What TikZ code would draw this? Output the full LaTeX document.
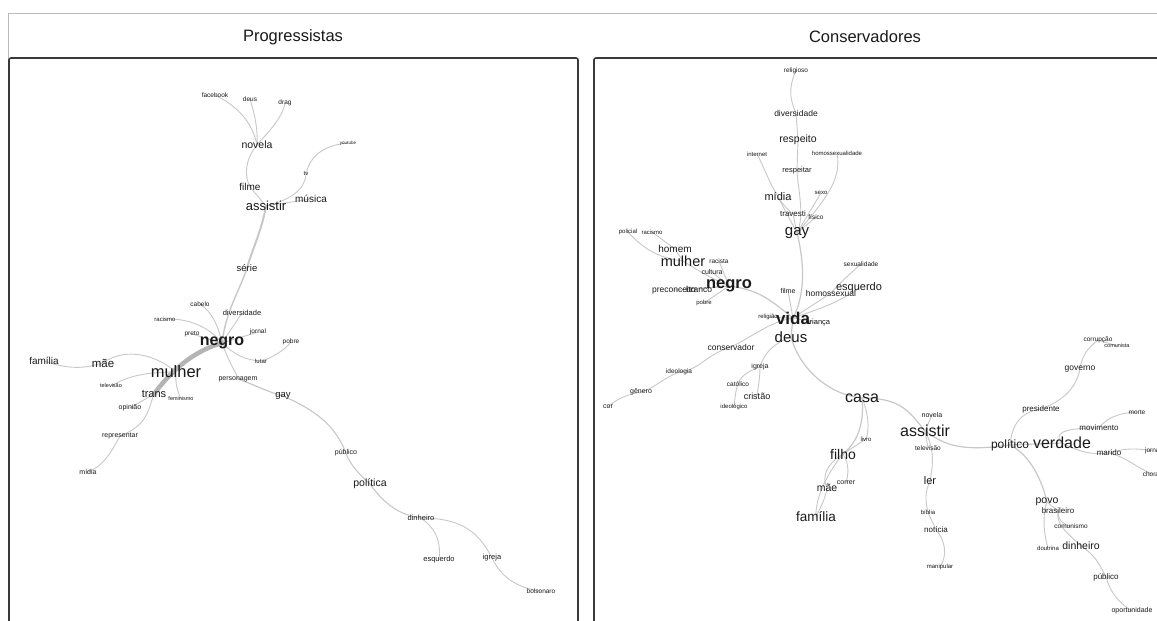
\documentclass[tikz,border=0pt]{standalone}
\usepackage{fontspec}
\setmainfont{Liberation Sans}
\usetikzlibrary{backgrounds}
\definecolor{edgegray}{HTML}{C8C8C8}
\definecolor{thickgray}{HTML}{B4B4B4}
\definecolor{framegray}{HTML}{3A3A3A}
\definecolor{ink}{HTML}{1A1A1A}
\tikzset{
  wd/.style={font=\fontsize{#1}{#1}\selectfont, inner sep=0pt, text=ink},
  wdb/.style={font=\fontsize{#1}{#1}\selectfont\bfseries, inner sep=0pt, text=ink},
  hdr/.style={font=\fontsize{16.5}{16.5}\selectfont, inner sep=0pt, text=ink},
  lk/.style={draw=edgegray, line width=#1, line cap=round},
  lk/.default=0.9,
  panel/.style={draw=framegray, line width=1.6, rounded corners=2},
}
\begin{document}
\begin{tikzpicture}[x=1pt,y=-1pt]
\useasboundingbox (0,0) rectangle (1157,621);
\clip (0,0) rectangle (1157,621);

% outer frame and headers
\draw[gray!55, line width=0.8] (8,640) -- (8,13) -- (1170,13);
\node[hdr] (hdrL) at (293,37) {Progressistas};
\node[hdr] (hdrR) at (865,37) {Conservadores};

% panels
\draw[panel] (9,640) -- (9,58) -- (578,58) -- (578,640);
\draw[panel] (594,640) -- (594,58) -- (1175,58);

% ---------- left network: words ----------
\node[wd=6.5] (Lfacebook) at (215,95) {facebook};
\node[wd=6.5] (Ldeus) at (250,99) {deus};
\node[wd=6.5] (Ldrag) at (285,103) {drag};
\node[wd=10.5] (Lnovela) at (257,145) {novela};
\node[wd=4.5] (Lyoutube) at (348,143) {youtube};
\node[wd=6] (Ltv) at (306,174) {tv};
\node[wd=10] (Lfilme) at (250,187) {filme};
\node[wd=10] (Lmusica) at (311,199) {música};
\node[wd=13] (Lassistir) at (266,206) {assistir};
\node[wd=9.5] (Lserie) at (247,268) {série};
\node[wd=6.5] (Lcabelo) at (200,304) {cabelo};
\node[wd=6] (Lracismo) at (165,319) {racismo};
\node[wd=7.5] (Ldiversidade) at (242,313) {diversidade};
\node[wd=6.5] (Ljornal) at (258,332) {jornal};
\node[wd=6.5] (Lpreto) at (192,334) {preto};
\node[wd=6.5] (Lpobre) at (291,342) {pobre};
\node[wdb=16] (Lnegro) at (222,343) {negro};
\node[wd=6] (Llutar) at (261,361) {lutar};
\node[wd=7] (Lpersonagem) at (238,379) {personagem};
\node[wd=9.5] (Lgay) at (283,396) {gay};
\node[wd=10] (Lfamilia) at (44,361) {família};
\node[wd=11.5] (Lmae) at (103,363) {mãe};
\node[wd=16.5] (Lmulher) at (176,372) {mulher};
\node[wd=5.5] (Ltelevisao) at (111,386) {televisão};
\node[wd=11] (Ltrans) at (154,394) {trans};
\node[wd=5.5] (Lfeminismo) at (181,399) {feminismo};
\node[wd=7] (Lopiniao) at (130,408) {opinião};
\node[wd=7] (Lrepresentar) at (120,436) {representar};
\node[wd=7] (Lmidia) at (88,472) {mídia};
\node[wd=7] (Lpublico) at (346,453) {público};
\node[wd=10.5] (Lpolitica) at (370,484) {política};
\node[wd=7.5] (Ldinheiro) at (421,518) {dinheiro};
\node[wd=7.5] (Lesquerdo) at (439,560) {esquerdo};
\node[wd=7.5] (Ligreja) at (492,558) {igreja};
\node[wd=6.5] (Lbolsonaro) at (541,591) {bolsonaro};

% ---------- right network: words ----------
\node[wd=6.5] (Rreligioso) at (796,71) {religioso};
\node[wd=8.5] (Rdiversidade) at (796,113) {diversidade};
\node[wd=10.5] (Rrespeito) at (798,140) {respeito};
\node[wd=6] (Rinternet) at (757,154) {internet};
\node[wd=6] (Rhomossexualidade) at (837,153) {homossexualidade};
\node[wd=7.5] (Rrespeitar) at (797,171) {respeitar};
\node[wd=11] (Rmidia) at (778,197) {mídia};
\node[wd=6] (Rsexo) at (821,193) {sexo};
\node[wd=8] (Rtravesti) at (793,214) {travesti};
\node[wd=6.5] (Rfisico) at (816,217) {físico};
\node[wd=15] (Rgay) at (797,233) {gay};
\node[wd=6] (Rpolicial) at (628,232) {policial};
\node[wd=6] (Rracismo) at (652,232) {racismo};
\node[wd=10] (Rhomem) at (675,249) {homem};
\node[wd=14.5] (Rmulher) at (683,261) {mulher};
\node[wd=6.5] (Rracista) at (719,261) {racista};
\node[wd=7] (Rcultura) at (712,272) {cultura};
\node[wd=8.5] (Rpreconceito) at (674,290) {preconceito};
\node[wd=8.5] (Rbranco) at (699,289) {branco};
\node[wdb=16.5] (Rnegro) at (729,286) {negro};
\node[wd=6] (Rpobre) at (704,303) {pobre};
\node[wd=7] (Rfilme) at (788,291) {filme};
\node[wd=8.5] (Rhomossexual) at (831,293) {homossexual};
\node[wd=11] (Resquerdo) at (859,288) {esquerdo};
\node[wd=6.5] (Rsexualidade) at (861,264) {sexualidade};
\node[wd=6] (Rreligiao) at (768,317) {religião};
\node[wd=7.5] (Rcrianca) at (818,323) {criança};
\node[wdb=17] (Rvida) at (793,318) {vida};
\node[wd=15] (Rdeus) at (791,337) {deus};
\node[wd=8.5] (Rconservador) at (731,347) {conservador};
\node[wd=6.5] (Rideologia) at (679,372) {ideologia};
\node[wd=7] (Rigreja) at (760,367) {igreja};
\node[wd=6.5] (Rcatolico) at (738,384) {católico};
\node[wd=9] (Rcristao) at (757,396) {cristão};
\node[wd=7] (Rgenero) at (641,392) {gênero};
\node[wd=7] (Rcor) at (608,407) {cor};
\node[wd=6] (Rideologico) at (734,407) {ideológico};
\node[wd=16] (Rcasa) at (862,398) {casa};
\node[wd=7] (Rnovela) at (932,415) {novela};
\node[wd=16] (Rassistir) at (925,431) {assistir};
\node[wd=6] (Rlivro) at (866,439) {livro};
\node[wd=6.5] (Rtelevisao) at (928,448) {televisão};
\node[wd=14] (Rfilho) at (843,454) {filho};
\node[wd=11] (Rler) at (930,481) {ler};
\node[wd=7] (Rcorrer) at (846,483) {correr};
\node[wd=10.5] (Rmae) at (827,488) {mãe};
\node[wd=13.5] (Rfamilia) at (816,517) {família};
\node[wd=6] (Rbiblia) at (928,512) {bíblia};
\node[wd=8] (Rnoticia) at (936,530) {notícia};
\node[wd=6] (Rmanipular) at (940,567) {manipular};
\node[wd=6.5] (Rcorrupcao) at (1098,340) {corrupção};
\node[wd=5.5] (Rcomunista) at (1117,346) {comunista};
\node[wd=8.5] (Rgoverno) at (1080,369) {governo};
\node[wd=8] (Rpresidente) at (1041,409) {presidente};
\node[wd=6.5] (Rmorte) at (1137,412) {morte};
\node[wd=8] (Rmovimento) at (1099,428) {movimento};
\node[wd=12] (Rpolitico) at (1010,445) {político};
\node[wd=16] (Rverdade) at (1062,443) {verdade};
\node[wd=8] (Rmarido) at (1109,453) {marido};
\node[wd=6.5] (Rjornal) at (1153,451) {jornal};
\node[wd=6.5] (Rchorar) at (1152,474) {chorar};
\node[wd=10.5] (Rpovo) at (1047,502) {povo};
\node[wd=8] (Rbrasileiro) at (1058,511) {brasileiro};
\node[wd=6.5] (Rcomunismo) at (1071,526) {comunismo};
\node[wd=6] (Rdoutrina) at (1048,548) {doutrina};
\node[wd=10.5] (Rdinheiro) at (1081,546) {dinheiro};
\node[wd=8] (Rpublico) at (1106,577) {público};
\node[wd=7] (Roportunidade) at (1132,611) {oportunidade};

\begin{scope}[on background layer]
\fill[white] (0,0) rectangle (1157,621);
% ---------- left network: links ----------
\draw[lk] (Lfacebook.center) .. controls (235,105) and (252,120) .. (Lnovela.center);
\draw[lk] (Ldeus.center) .. controls (255,115) and (258,130) .. (Lnovela.center);
\draw[lk] (Ldrag.center) .. controls (282,120) and (265,135) .. (Lnovela.center);
\draw[lk] (Lnovela.center) .. controls (245,160) and (244,175) .. (Lfilme.center);
\draw[lk] (Lfilme.center) -- (Lassistir.center);
\draw[lk] (Lyoutube.center) .. controls (325,145) and (310,155) .. (Ltv.center);
\draw[lk] (Ltv.center) .. controls (305,190) and (290,200) .. (Lassistir.center);
\draw[lk] (Lmusica.center) -- (Lassistir.center);
\draw[lk=2] (Lassistir.center) .. controls (262,230) and (252,250) .. (Lserie.center);
\draw[lk=1.4] (Lserie.center) .. controls (240,290) and (226,310) .. (Lnegro.center);
\draw[lk] (Lcabelo.center) .. controls (212,312) and (218,325) .. (Lnegro.center);
\draw[lk] (Lracismo.center) .. controls (190,318) and (210,328) .. (Lnegro.center);
\draw[lk] (Lpreto.center) -- (Lnegro.center);
\draw[lk] (Ldiversidade.center) -- (Lnegro.center);
\draw[lk] (Ljornal.center) -- (Lnegro.center);
\draw[lk] (Lnegro.center) .. controls (235,355) and (245,360) .. (Llutar.center);
\draw[lk] (Lpobre.center) .. controls (285,350) and (272,358) .. (Llutar.center);
\draw[lk] (Lnegro.center) .. controls (230,365) and (236,372) .. (Lpersonagem.center);
\draw[lk=1.2] (Lpersonagem.center) .. controls (255,385) and (268,392) .. (Lgay.center);
\draw[lk=1.1] (Lgay.center) .. controls (315,410) and (335,425) .. (Lpublico.center);
\draw[lk=1.1] (Lpublico.center) .. controls (350,465) and (360,475) .. (Lpolitica.center);
\draw[lk=1.1] (Lpolitica.center) .. controls (385,505) and (400,515) .. (Ldinheiro.center);
\draw[lk] (Ldinheiro.center) .. controls (438,530) and (441,545) .. (Lesquerdo.center);
\draw[lk] (Ldinheiro.center) .. controls (465,518) and (480,535) .. (Ligreja.center);
\draw[lk] (Ligreja.center) .. controls (500,575) and (515,588) .. (Lbolsonaro.center);
\draw[lk=4.5, draw=thickgray] (Lnegro.center) .. controls (190,352) and (168,375) .. (Ltrans.center);
\draw[lk] (Lmulher.center) .. controls (150,350) and (120,350) .. (Lmae.center);
\draw[lk] (Lmae.center) .. controls (80,370) and (65,368) .. (Lfamilia.center);
\draw[lk] (Ltelevisao.center) .. controls (125,378) and (140,372) .. (Lmulher.center);
\draw[lk] (Lmulher.center) .. controls (175,385) and (178,392) .. (Lfeminismo.center);
\draw[lk] (Lopiniao.center) -- (Ltrans.center);
\draw[lk] (Ltrans.center) .. controls (148,410) and (148,425) .. (Lrepresentar.center);
\draw[lk] (Lrepresentar.center) .. controls (112,450) and (105,465) .. (Lmidia.center);

% ---------- right network: links ----------
\draw[lk] (Rreligioso.center) .. controls (788,88) and (790,100) .. (Rdiversidade.center);
\draw[lk] (Rdiversidade.center) -- (Rrespeito.center);
\draw[lk] (Rrespeito.center) -- (Rrespeitar.center);
\draw[lk] (Rrespeitar.center) .. controls (798,190) and (805,215) .. (Rgay.center);
\draw[lk] (Rinternet.center) .. controls (768,175) and (775,200) .. (Rtravesti.center);
\draw[lk] (Rmidia.center) -- (Rgay.center);
\draw[lk] (Rtravesti.center) -- (Rgay.center);
\draw[lk] (Rhomossexualidade.center) .. controls (842,180) and (825,200) .. (Rgay.center);
\draw[lk] (Rsexo.center) -- (Rgay.center);
\draw[lk] (Rfisico.center) -- (Rgay.center);
\draw[lk=1.2] (Rgay.center) .. controls (805,265) and (805,295) .. (Rvida.center);
\draw[lk] (Rpolicial.center) .. controls (640,245) and (655,258) .. (Rmulher.center);
\draw[lk] (Rracismo.center) -- (Rhomem.center);
\draw[lk] (Rhomem.center) -- (Rmulher.center);
\draw[lk] (Rmulher.center) .. controls (700,272) and (715,280) .. (Rnegro.center);
\draw[lk] (Rracista.center) -- (Rnegro.center);
\draw[lk] (Rcultura.center) -- (Rnegro.center);
\draw[lk] (Rpreconceito.center) -- (Rnegro.center);
\draw[lk] (Rbranco.center) -- (Rnegro.center);
\draw[lk] (Rpobre.center) -- (Rnegro.center);
\draw[lk=1.2] (Rnegro.center) .. controls (760,290) and (770,300) .. (Rvida.center);
\draw[lk] (Rfilme.center) -- (Rvida.center);
\draw[lk] (Rhomossexual.center) -- (Rvida.center);
\draw[lk] (Resquerdo.center) .. controls (835,305) and (815,310) .. (Rvida.center);
\draw[lk] (Rsexualidade.center) .. controls (845,278) and (835,288) .. (Rhomossexual.center);
\draw[lk] (Rreligiao.center) -- (Rvida.center);
\draw[lk] (Rcrianca.center) -- (Rvida.center);
\draw[lk=1.2] (Rvida.center) -- (Rdeus.center);
\draw[lk] (Rvida.center) .. controls (770,322) and (755,335) .. (Rconservador.center);
\draw[lk] (Rconservador.center) .. controls (705,355) and (700,370) .. (Rideologia.center);
\draw[lk] (Rideologia.center) .. controls (660,380) and (655,388) .. (Rgenero.center);
\draw[lk] (Rgenero.center) .. controls (625,395) and (615,400) .. (Rcor.center);
\draw[lk] (Rdeus.center) .. controls (770,345) and (764,355) .. (Rigreja.center);
\draw[lk] (Rigreja.center) .. controls (745,372) and (740,378) .. (Rcatolico.center);
\draw[lk] (Rigreja.center) .. controls (760,378) and (758,388) .. (Rcristao.center);
\draw[lk] (Rcatolico.center) .. controls (735,392) and (735,400) .. (Rideologico.center);
\draw[lk=1.2] (Rdeus.center) .. controls (800,370) and (830,395) .. (Rcasa.center);
\draw[lk=1.2] (Rcasa.center) .. controls (900,398) and (908,410) .. (Rassistir.center);
\draw[lk=1.2] (Rassistir.center) .. controls (945,445) and (960,452) .. (Rpolitico.center);
\draw[lk] (Rnovela.center) -- (Rassistir.center);
\draw[lk] (Rtelevisao.center) -- (Rassistir.center);
\draw[lk] (Rassistir.center) .. controls (935,450) and (933,465) .. (Rler.center);
\draw[lk] (Rler.center) .. controls (925,492) and (925,500) .. (Rbiblia.center);
\draw[lk] (Rbiblia.center) .. controls (930,518) and (933,522) .. (Rnoticia.center);
\draw[lk] (Rnoticia.center) .. controls (945,540) and (948,555) .. (Rmanipular.center);
\draw[lk=1.2] (Rcasa.center) .. controls (864,420) and (860,440) .. (Rfilho.center);
\draw[lk] (Rcasa.center) .. controls (868,412) and (870,428) .. (Rlivro.center);
\draw[lk] (Rlivro.center) -- (Rfilho.center);
\draw[lk] (Rfilho.center) .. controls (825,465) and (822,478) .. (Rmae.center);
\draw[lk] (Rfilho.center) .. controls (850,465) and (848,475) .. (Rcorrer.center);
\draw[lk] (Rmae.center) .. controls (825,500) and (820,508) .. (Rfamilia.center);
\draw[lk] (Rfilho.center) .. controls (830,470) and (815,495) .. (Rfamilia.center);
\draw[lk=1.2] (Rpolitico.center) -- (Rverdade.center);
\draw[lk] (Rpolitico.center) .. controls (1012,425) and (1020,412) .. (Rpresidente.center);
\draw[lk] (Rpresidente.center) .. controls (1060,402) and (1076,390) .. (Rgoverno.center);
\draw[lk] (Rgoverno.center) .. controls (1082,355) and (1088,348) .. (Rcorrupcao.center);
\draw[lk] (Rcorrupcao.center) -- (Rcomunista.center);
\draw[lk] (Rverdade.center) .. controls (1050,430) and (1075,428) .. (Rmovimento.center);
\draw[lk] (Rmovimento.center) .. controls (1105,420) and (1115,413) .. (Rmorte.center);
\draw[lk] (Rverdade.center) .. controls (1080,452) and (1090,455) .. (Rmarido.center);
\draw[lk] (Rmarido.center) .. controls (1125,448) and (1135,448) .. (Rjornal.center);
\draw[lk] (Rmarido.center) .. controls (1128,458) and (1132,465) .. (Rchorar.center);
\draw[lk=1.2] (Rpolitico.center) .. controls (1030,455) and (1042,480) .. (Rpovo.center);
\draw[lk] (Rpovo.center) -- (Rbrasileiro.center);
\draw[lk] (Rpovo.center) .. controls (1042,515) and (1044,535) .. (Rdoutrina.center);
\draw[lk] (Rbrasileiro.center) .. controls (1058,520) and (1063,525) .. (Rcomunismo.center);
\draw[lk] (Rbrasileiro.center) .. controls (1055,525) and (1070,535) .. (Rdinheiro.center);
\draw[lk] (Rdinheiro.center) .. controls (1095,555) and (1100,565) .. (Rpublico.center);
\draw[lk] (Rpublico.center) .. controls (1110,590) and (1115,600) .. (Roportunidade.center);
\end{scope}
\end{tikzpicture}
\end{document}
